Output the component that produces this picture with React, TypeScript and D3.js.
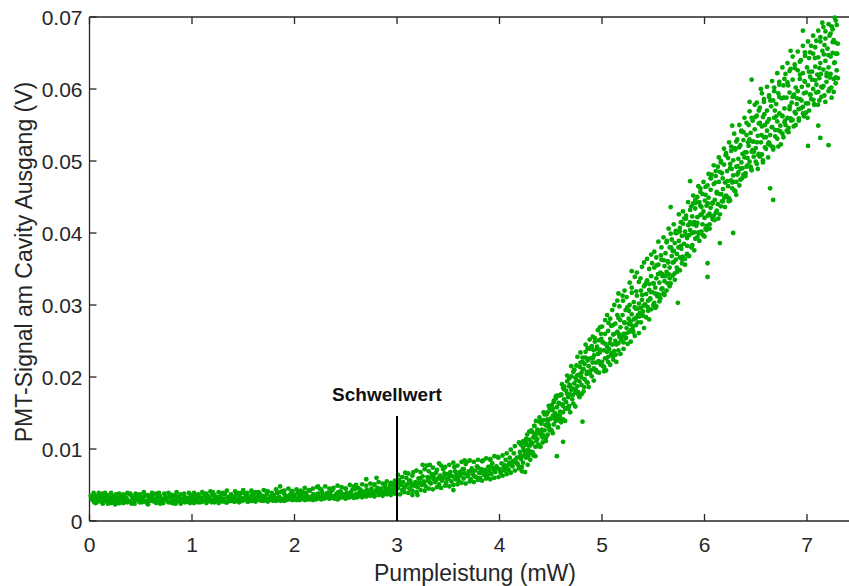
import React from 'react';
import * as d3 from 'd3';

// Pump power (mW) vs PMT signal (mV)
const xTicks = [0, 1, 2, 3, 4, 5, 6, 7];
const xTickLabels = ['0', '1', '2', '3', '4', '5', '6', '7'];
const yTicks = [0, 10, 20, 30, 40, 50, 60, 70];
const yTickLabels = ['0', '0.01', '0.02', '0.03', '0.04', '0.05', '0.06', '0.07'];

const thresholdPower = 3;
const thresholdTop = 14.6;
const thresholdLabel = 'Schwellwert';

const plateauLow: [number, number][] = [
  [0.03,3.3],[0.04,2.8],[0.05,3.6],[0.05,3.0],[0.06,3.1],[0.07,2.6],[0.08,3.4],[0.09,3.2],[0.10,2.9],[0.11,3.6],[0.12,2.6],[0.14,3.2],[0.15,2.9],[0.16,3.4],[0.18,2.4],[0.19,3.1],[0.20,3.3],[0.22,2.7],[0.23,3.0],[0.24,3.5],[0.26,2.8],[0.27,3.2],[0.28,2.5],[0.30,3.1],[0.31,3.4],[0.32,2.9],[0.34,2.6],[0.35,3.3],[0.36,3.0],[0.38,2.8],[0.39,3.7],[0.40,2.7],[0.42,3.1],[0.43,3.2],[0.44,2.4],[0.46,3.4],[0.47,2.9],[0.48,3.0],[0.50,3.3],[0.51,2.6],[0.52,3.2],[0.54,3.5],[0.55,2.8],[0.56,2.5],[0.58,3.1],[0.59,3.3],[0.60,2.9],[0.62,3.6],[0.63,2.7],[0.64,3.0],[0.66,3.2],[0.67,2.7],[0.68,3.5],[0.70,2.9],[0.71,3.0],[0.72,2.5],[0.74,3.3],[0.75,3.1],[0.76,2.8],[0.78,3.4],[0.79,2.6],[0.80,3.2],[0.82,2.9],[0.83,3.5],[0.84,2.4],[0.86,3.1],[0.87,3.3],[0.88,2.7],[0.90,3.0],[0.91,2.8],[0.92,3.6],[0.94,2.7],[0.95,3.1],[0.96,3.2],[0.98,2.5],[0.99,3.4],
  [0.02,3.0],[0.04,3.9],[0.06,2.5],[0.08,2.7],[0.09,3.9],[0.11,3.0],[0.13,3.8],[0.13,2.4],[0.17,3.6],[0.17,2.7],[0.21,3.9],[0.21,2.5],[0.25,3.4],[0.25,2.3],[0.29,3.8],[0.29,3.0],[0.33,2.5],[0.33,3.7],[0.37,3.9],[0.37,2.6],[0.41,3.5],[0.41,2.4],[0.45,3.8],[0.45,3.0],[0.49,2.6],[0.49,3.7],[0.53,4.0],[0.53,2.7],[0.57,3.6],[0.57,2.3],[0.61,3.9],[0.61,2.8],[0.65,2.5],[0.65,3.8],[0.69,3.4],[0.69,2.4],[0.73,3.8],[0.73,3.0],[0.77,2.6],[0.77,3.9],[0.81,3.6],[0.81,2.5],[0.85,4.0],[0.85,2.8],[0.89,3.7],[0.89,2.4],[0.93,3.3],[0.93,2.6],[0.97,3.9],[0.97,2.9]
];

const plateauMid: [number, number][] = [
  [1.00,3.0],[1.01,2.7],[1.03,3.5],[1.04,3.1],[1.05,2.8],[1.07,3.3],[1.08,2.6],[1.09,3.2],[1.11,3.8],[1.12,2.9],[1.13,3.0],[1.15,2.7],[1.16,3.4],[1.17,3.1],[1.19,2.6],[1.20,3.6],[1.21,3.0],[1.23,2.8],[1.24,3.3],[1.25,3.2],[1.27,2.7],[1.28,3.5],[1.29,2.9],[1.31,3.1],[1.32,3.7],[1.33,2.6],[1.35,3.3],[1.36,3.0],[1.37,2.8],[1.39,3.4],[1.40,3.2],[1.41,2.7],[1.43,3.6],[1.44,3.0],[1.45,2.9],[1.47,3.3],[1.48,3.9],[1.49,2.8],[1.51,3.2],[1.52,3.0],[1.53,3.5],[1.55,2.7],[1.56,3.3],[1.57,3.1],[1.59,2.8],[1.60,3.6],[1.61,3.2],[1.63,2.9],[1.64,3.4],[1.65,4.0],[1.67,3.0],[1.68,2.8],[1.69,3.5],[1.71,3.3],[1.72,2.9],[1.73,3.7],[1.75,3.1],[1.76,3.0],[1.77,3.4],[1.79,2.8],[1.80,3.6],[1.81,3.2],[1.83,3.9],[1.84,2.9],[1.85,3.3],[1.86,4.8],[1.87,3.1],[1.88,4.1],[1.89,3.0],[1.91,3.5],[1.92,2.9],[1.93,3.4],[1.95,3.2],[1.96,3.7],[1.97,3.0],[1.99,3.3],
  [1.02,3.9],[1.02,2.5],[1.06,3.7],[1.06,2.6],[1.10,4.0],[1.10,2.7],[1.14,3.8],[1.14,2.5],[1.18,4.1],[1.18,2.8],[1.22,3.6],[1.22,2.6],[1.26,4.0],[1.26,2.5],[1.30,3.9],[1.30,2.7],[1.34,4.2],[1.34,2.6],[1.38,3.7],[1.38,2.8],[1.42,4.1],[1.42,2.7],[1.46,3.8],[1.46,2.6],[1.50,4.3],[1.50,2.9],[1.54,3.9],[1.54,2.7],[1.58,4.2],[1.58,2.8],[1.62,4.0],[1.62,2.7],[1.66,3.8],[1.66,2.9],[1.70,4.3],[1.70,2.8],[1.74,4.1],[1.74,2.7],[1.78,3.9],[1.78,3.0],[1.82,4.4],[1.82,2.8],[1.86,4.0],[1.86,2.9],[1.90,4.2],[1.90,2.8],[1.94,4.5],[1.94,3.0],[1.98,4.1],[1.98,2.9]
];

const plateauHigh: [number, number][] = [
  [2.00,3.6],[2.01,3.1],[2.03,3.9],[2.04,3.3],[2.05,2.9],[2.07,3.5],[2.08,4.0],[2.09,3.2],[2.11,3.6],[2.12,3.0],[2.13,3.4],[2.15,4.2],[2.16,3.3],[2.17,3.1],[2.19,3.7],[2.20,3.5],[2.21,3.0],[2.23,3.8],[2.23,4.8],[2.24,3.4],[2.25,3.2],[2.27,4.0],[2.28,3.6],[2.29,3.1],[2.31,3.5],[2.32,3.9],[2.33,3.3],[2.35,3.7],[2.36,3.2],[2.37,4.3],[2.39,3.5],[2.40,3.4],[2.41,3.8],[2.43,3.1],[2.44,3.6],[2.45,4.1],[2.47,3.4],[2.48,3.7],[2.49,3.2],[2.51,3.9],[2.52,3.5],[2.53,3.3],[2.55,4.0],[2.56,3.6],[2.57,3.4],[2.59,4.4],[2.60,3.7],[2.60,5.0],[2.61,3.3],[2.63,3.9],[2.64,3.6],[2.65,4.2],[2.67,3.5],[2.68,3.8],[2.69,4.1],[2.70,5.8],[2.71,3.6],[2.72,4.0],[2.73,3.7],[2.75,4.5],[2.76,3.9],[2.77,3.6],[2.79,4.2],[2.80,4.0],[2.80,6.0],[2.81,4.6],[2.83,3.8],[2.84,4.3],[2.85,4.1],[2.87,3.9],[2.88,4.7],[2.89,4.2],[2.91,4.0],[2.92,4.5],[2.93,4.9],[2.95,4.1],[2.96,4.4],[2.97,5.2],[2.99,4.3],
  [2.02,4.4],[2.02,2.9],[2.06,4.2],[2.06,3.0],[2.10,4.6],[2.10,2.9],[2.14,4.3],[2.14,3.1],[2.18,4.5],[2.18,2.9],[2.22,4.7],[2.22,3.1],[2.26,4.4],[2.26,3.0],[2.30,4.8],[2.30,3.2],[2.34,4.5],[2.34,3.1],[2.38,4.6],[2.38,3.2],[2.42,4.9],[2.42,3.0],[2.46,4.7],[2.46,3.3],[2.50,4.5],[2.50,3.1],[2.54,5.0],[2.54,3.3],[2.58,4.8],[2.58,3.2],[2.62,4.6],[2.62,3.4],[2.66,5.1],[2.66,3.3],[2.70,4.9],[2.70,3.4],[2.74,5.2],[2.74,3.5],[2.78,5.0],[2.78,3.4],[2.82,5.4],[2.82,3.6],[2.86,5.2],[2.86,3.5],[2.90,5.5],[2.90,3.7],[2.94,5.3],[2.94,3.6],[2.98,5.6],[2.98,3.8]
];

const plateauFill: [number, number][] = [
  [0.012,3.5],[0.047,2.6],[0.081,3.3],[0.118,3.0],[0.152,3.9],[0.187,2.8],[0.223,3.2],[0.258,3.7],[0.292,2.5],[0.327,3.4],[0.363,3.1],[0.398,3.8],[0.432,2.7],[0.467,3.6],[0.503,2.9],[0.538,3.5],[0.572,2.6],[0.607,3.3],[0.643,3.0],[0.678,3.9],[0.712,2.8],[0.747,3.2],[0.783,3.7],[0.818,2.5],[0.852,3.4],[0.887,3.1],[0.923,3.8],[0.958,2.7],[0.992,3.6],
  [1.027,3.0],[1.063,3.6],[1.098,2.7],[1.132,3.4],[1.167,3.1],[1.203,4.0],[1.238,2.9],[1.272,3.3],[1.307,3.8],[1.343,2.6],[1.378,3.5],[1.412,3.2],[1.447,3.9],[1.483,2.8],[1.518,3.8],[1.552,3.1],[1.587,3.7],[1.623,2.8],[1.658,3.5],[1.692,3.2],[1.727,4.1],[1.763,3.0],[1.798,3.4],[1.832,3.9],[1.867,2.8],[1.903,3.7],[1.938,3.4],[1.972,4.1],
  [2.007,3.0],[2.043,3.9],[2.078,3.3],[2.112,3.9],[2.147,3.0],[2.183,3.7],[2.218,3.4],[2.252,4.4],[2.287,3.3],[2.323,3.7],[2.358,4.2],[2.392,3.1],[2.427,4.0],[2.463,3.7],[2.498,4.5],[2.532,3.4],[2.567,4.4],[2.603,3.7],[2.638,4.4],[2.672,3.5],[2.707,4.3],[2.743,4.1],[2.778,5.1],[2.812,4.0],[2.847,4.5],[2.883,5.1],[2.918,4.0],[2.952,5.0],[2.987,4.8]
];

const nearThreshold: [number, number][] = [
  [3.00,5.2],[3.01,4.6],[3.02,5.7],[3.04,5.0],[3.05,4.3],[3.06,5.4],[3.08,4.8],[3.08,6.7],[3.09,6.0],[3.10,5.1],[3.12,4.5],[3.13,5.6],[3.14,5.2],[3.15,3.6],[3.16,6.8],[3.17,4.9],[3.18,5.4],[3.20,4.7],[3.20,3.6],[3.21,5.9],[3.22,5.3],[3.24,5.0],[3.25,6.2],[3.25,7.8],[3.26,5.5],[3.28,4.8],[3.29,7.7],[3.30,5.6],[3.32,6.0],[3.32,7.8],[3.33,5.2],[3.34,6.5],[3.36,5.8],[3.37,5.4],[3.38,6.7],[3.40,5.9],[3.41,5.1],[3.41,8.0],[3.42,6.3],[3.44,5.6],[3.45,7.2],[3.46,6.1],[3.48,5.3],[3.49,6.5],[3.50,5.9],[3.52,6.8],[3.53,5.5],[3.54,6.2],[3.55,4.3],[3.56,7.5],[3.57,5.8],[3.58,6.4],[3.60,5.6],[3.61,6.8],[3.62,6.3],[3.64,7.2],[3.65,5.9],[3.66,6.6],[3.66,8.4],[3.68,8.2],[3.69,6.2],[3.70,6.9],[3.72,5.8],[3.73,7.3],[3.74,6.5],[3.76,7.0],[3.77,6.1],[3.78,7.6],[3.80,6.7],[3.81,6.0],[3.82,7.2],[3.84,8.4],[3.85,6.4],[3.86,6.9],[3.88,6.2],[3.89,7.5],[3.90,7.0],[3.91,8.6],[3.92,6.5],[3.93,8.0],[3.94,7.3],[3.96,6.8],[3.97,7.6],[3.98,8.9],[4.00,7.2],[4.01,6.7],[4.02,8.0],[4.04,7.4],[4.05,7.0],[4.06,8.5],[4.08,7.7],[4.09,7.1],[4.10,8.8],[4.12,7.9],[4.13,8.3],[4.14,9.4],[4.16,8.1],[4.17,8.8],[4.18,7.8],[4.20,9.6],[4.21,8.6],
  [3.01,6.4],[3.03,3.7],[3.05,6.1],[3.07,4.0],[3.11,6.6],[3.11,3.9],[3.15,6.3],[3.15,4.2],[3.19,7.0],[3.19,4.0],[3.23,6.8],[3.23,4.3],[3.27,7.2],[3.27,4.2],[3.31,6.9],[3.31,4.5],[3.35,7.4],[3.35,4.4],[3.39,7.1],[3.39,4.7],[3.43,7.7],[3.43,4.6],[3.47,7.5],[3.47,4.9],[3.51,7.8],[3.51,4.8],[3.55,8.1],[3.55,5.0],[3.59,7.7],[3.59,5.1],[3.63,8.2],[3.63,5.3],[3.67,7.9],[3.67,5.2],[3.71,8.4],[3.71,5.5],[3.75,8.2],[3.75,5.4],[3.79,8.5],[3.79,5.7],[3.83,8.3],[3.83,5.6],[3.87,8.7],[3.87,5.9],[3.91,8.5],[3.91,5.8],[3.95,9.0],[3.95,6.0],[3.99,8.8],[3.99,6.1],[4.03,9.1],[4.03,6.3],[4.07,9.4],[4.07,6.5],[4.11,9.9],[4.11,6.7],[4.15,10.4],[4.15,7.0],[4.19,10.9],[4.19,7.3],
  [3.035,5.3],[3.072,4.6],[3.118,5.6],[3.143,4.9],[3.187,5.0],[3.226,5.9],[3.262,5.2],[3.297,6.1],[3.318,5.4],[3.356,6.3],[3.384,5.7],[3.427,5.9],[3.463,6.6],[3.487,5.8],[3.524,6.3],[3.566,6.9],[3.593,5.9],[3.627,6.6],[3.652,7.2],[3.694,6.4],[3.728,6.9],[3.756,6.2],[3.791,7.4],[3.823,6.7],[3.857,7.1],[3.878,6.5],[3.915,7.6],[3.946,7.0],[3.972,7.3],[4.013,6.9],[4.044,7.8],[4.068,7.2],[4.094,8.1],[4.127,7.6],[4.155,8.5],[4.176,8.0],[4.197,8.9]
];

const riseEarly: [number, number][] = [
  [4.22,9.0],[4.23,10.2],[4.23,8.1],[4.24,10.9],[4.25,9.5],[4.26,10.6],[4.26,8.8],[4.27,12.0],[4.28,9.9],[4.29,11.3],[4.29,9.4],[4.30,10.5],[4.31,12.6],[4.32,10.8],[4.32,9.6],[4.33,11.6],[4.34,13.2],[4.35,10.3],[4.35,11.9],[4.36,11.1],[4.37,12.7],[4.38,10.6],[4.38,12.3],[4.39,13.8],
  [4.40,12.0],[4.41,13.5],[4.41,12.2],[4.42,10.9],[4.43,14.0],[4.44,12.6],[4.44,14.8],[4.45,13.3],[4.46,11.8],[4.47,15.1],[4.47,13.8],[4.48,13.0],[4.49,15.6],[4.50,14.2],[4.50,12.7],[4.51,16.1],[4.52,14.6],[4.53,13.4],[4.53,16.7],[4.54,15.0],[4.55,13.9],[4.56,15.8],[4.56,17.4],[4.57,14.7],[4.58,16.3],[4.59,15.2],[4.59,14.0],[4.60,17.6],[4.61,16.2],[4.62,15.1],[4.62,18.5],[4.63,16.9],[4.64,15.6],[4.65,18.1],[4.65,16.5],[4.66,19.4],[4.67,17.2],[4.68,16.0],[4.68,18.7],[4.69,17.6],
  [4.70,20.1],[4.71,18.4],[4.71,16.9],[4.72,20.7],[4.73,19.1],[4.74,17.8],[4.74,19.9],[4.75,21.6],[4.76,18.7],[4.77,20.3],[4.77,17.5],[4.78,19.4],[4.79,22.0],[4.80,20.6],[4.80,18.9],[4.81,22.7],[4.82,21.1],[4.83,19.7],[4.83,21.8],[4.84,23.5],[4.85,20.4],[4.86,22.3],[4.86,19.2],[4.87,21.5],[4.88,23.9],[4.89,22.6],[4.89,20.9],
  [4.90,24.3],[4.91,22.6],[4.92,21.2],[4.92,23.7],[4.93,25.4],[4.94,22.0],[4.95,23.9],[4.95,20.7],[4.96,23.2],[4.97,25.1],[4.98,23.8],[4.98,21.9],[4.99,26.0]
];

const riseMid: [number, number][] = [
  [5.00,22.1],[5.01,24.8],[5.01,21.5],[5.02,23.7],[5.03,26.0],[5.03,22.6],[5.04,20.9],[5.05,24.2],[5.06,22.8],[5.06,26.4],[5.07,23.9],[5.08,21.7],[5.08,25.3],[5.09,27.1],[5.10,24.5],[5.11,22.4],[5.11,25.9],[5.12,23.6],[5.13,27.4],[5.13,25.0],[5.14,22.1],[5.15,26.3],[5.16,24.7],[5.16,28.2],[5.17,25.6],[5.18,23.2],[5.18,26.9],[5.19,25.1],[5.20,28.6],[5.21,26.0],[5.21,23.9],[5.22,27.5],[5.23,25.4],[5.23,29.3],[5.24,26.8],[5.25,24.6],[5.26,28.1],[5.26,26.2],[5.27,30.0],[5.28,27.3],[5.28,24.9],[5.29,28.7],[5.30,26.5],[5.31,30.4],[5.31,28.0],[5.32,25.7],[5.33,29.5],[5.33,27.2],[5.34,31.3],[5.35,28.6],[5.36,26.1],[5.36,30.2],[5.37,28.9],[5.38,32.0],[5.38,27.6],[5.39,30.7],[5.40,29.1],[5.41,26.8],[5.41,32.6],[5.42,30.0],[5.43,28.3],[5.43,31.5],[5.44,33.4],[5.45,30.6],[5.46,28.0],[5.46,32.1],[5.47,30.9],[5.48,34.0],[5.48,29.4],[5.49,31.8],[5.50,33.0],[5.51,30.3],[5.51,35.2],[5.52,32.4],[5.53,29.8],[5.53,33.7],[5.54,31.2],[5.55,35.6],[5.56,33.1],[5.56,30.5],[5.57,34.5],[5.58,32.2],[5.58,36.3],[5.59,34.0],[5.60,31.6],[5.61,35.4],[5.61,33.3],[5.62,37.2],[5.63,34.6],[5.63,32.0],[5.64,36.1],[5.65,34.3],[5.66,38.0],[5.66,35.2],[5.67,33.0],[5.68,36.8],[5.68,39.1],[5.69,35.9],[5.70,37.5],[5.71,34.4],[5.71,38.6],[5.72,36.3],[5.73,40.0],[5.73,37.1],[5.74,34.9],[5.75,38.9],[5.76,36.6],[5.76,40.7],[5.77,38.2],[5.78,35.8],[5.78,39.6],[5.79,41.3],[5.80,38.5],[5.81,36.4],[5.81,40.2],[5.82,42.0],[5.83,39.3],[5.83,37.0],[5.84,41.1],[5.85,39.7],[5.86,43.2],[5.86,40.4],[5.87,38.1],[5.88,42.3],[5.88,40.0],[5.89,44.1],[5.90,41.5],[5.91,39.2],[5.91,43.4],[5.92,41.0],[5.93,45.0],[5.93,42.2],[5.94,40.1],[5.95,44.3],[5.96,42.5],[5.96,46.2],[5.97,43.6],[5.98,41.2],[5.98,45.4],[5.99,43.0]
];

const riseLate: [number, number][] = [
  [6.00,42.1],[6.01,45.3],[6.01,40.6],[6.02,43.8],[6.03,46.6],[6.03,42.4],[6.04,44.9],[6.05,41.2],[6.06,46.0],[6.06,43.5],[6.07,48.1],[6.08,44.2],[6.08,41.9],[6.09,46.8],[6.10,44.6],[6.11,47.9],[6.11,42.8],[6.12,45.7],[6.13,49.2],[6.13,44.0],[6.14,47.1],[6.15,45.4],[6.16,50.0],[6.16,43.7],[6.17,48.3],[6.18,46.1],[6.18,44.4],[6.19,49.5],[6.20,47.0],[6.21,51.1],[6.21,45.2],[6.22,48.6],[6.23,46.5],[6.23,50.4],[6.24,44.8],[6.25,49.0],[6.26,47.3],[6.26,52.0],[6.27,46.2],[6.28,50.1],[6.28,48.0],[6.29,45.9],[6.30,51.6],[6.31,49.2],[6.31,47.1],[6.32,53.0],[6.33,50.3],[6.33,48.4],[6.34,46.6],[6.35,52.2],[6.36,49.8],[6.36,54.1],[6.37,51.0],[6.38,48.1],[6.38,52.9],[6.39,50.5],[6.40,47.9],[6.41,53.6],[6.41,51.2],[6.42,49.4],[6.43,55.0],[6.43,52.1],[6.44,49.9],[6.45,53.9],[6.46,51.3],[6.46,48.7],[6.47,55.6],[6.48,52.7],[6.48,50.6],[6.49,54.4],[6.50,51.8],[6.51,56.3],[6.51,49.6],[6.52,53.5],[6.53,51.0],[6.53,55.2],[6.54,57.4],[6.55,52.6],[6.56,54.8],[6.56,50.9],[6.57,56.1],[6.58,53.3],[6.58,58.2],[6.59,55.0],[6.60,51.7],[6.61,57.0],[6.61,54.2],[6.62,52.4],[6.63,59.1],[6.63,55.8],[6.64,53.6],[6.65,57.6],[6.66,54.7],[6.66,52.0],[6.67,58.4],[6.68,56.0],[6.68,60.2],[6.69,54.3],[6.70,57.9],[6.71,55.5],[6.71,53.1],[6.72,59.4],[6.73,56.6],[6.73,61.0],[6.74,54.9],[6.75,58.7],[6.76,56.2],[6.76,53.8],[6.77,60.5],[6.78,57.3],[6.78,55.4],[6.79,62.1],[6.80,58.8],[6.81,56.0],[6.81,60.9],[6.82,54.6],[6.83,59.5],[6.83,57.2],[6.84,62.8],[6.85,58.1],[6.86,55.7],[6.86,61.3],[6.87,59.0],[6.88,63.4],[6.88,56.8],[6.89,60.2],[6.90,57.9],[6.91,62.6],[6.91,59.7],[6.92,55.9],[6.93,61.4],[6.93,58.6],[6.94,64.0],[6.95,60.3],[6.96,57.5],[6.96,62.2],[6.97,59.4],[6.98,65.1],[6.98,61.0],[6.99,56.7],[7.00,63.0],[7.01,60.5],[7.01,58.0],[7.02,64.3],[7.03,61.7],[7.03,59.2],[7.04,66.0],[7.05,62.4],[7.06,60.0],[7.06,64.9],[7.07,57.8],[7.08,63.1],[7.08,61.2],[7.09,66.7],[7.10,62.0],[7.11,59.6],[7.11,64.4],[7.12,61.5],[7.13,67.2],[7.13,63.6],[7.14,58.9],[7.15,65.3],[7.16,62.7],[7.16,60.4],[7.17,66.1],[7.18,63.9],[7.18,68.0],[7.19,61.8],[7.20,65.6],[7.21,63.0],[7.21,59.7],[7.22,67.4],[7.23,64.5],[7.23,62.1],[7.24,68.7],[7.25,65.0],[7.26,61.4],[7.26,66.8],[7.27,63.7],[7.28,69.5],[7.28,64.9],[7.29,62.6],[7.30,66.3]
];

const riseSpread: [number, number][] = [
  [4.21,10.6],[4.22,6.9],[4.24,9.8],[4.25,6.8],[4.26,11.4],[4.28,9.0],[4.29,12.4],[4.30,8.5],[4.31,10.9],[4.33,9.1],[4.34,13.2],[4.35,9.0],[4.36,12.3],[4.37,10.4],[4.39,14.4],[4.40,10.3],[4.41,13.9],[4.42,11.6],[4.43,15.1],[4.45,11.5],[4.46,14.8],[4.47,12.0],[4.48,16.0],[4.49,12.6],[4.51,15.4],[4.52,12.2],[4.53,16.5],[4.54,14.2],[4.55,17.0],[4.57,13.0],[4.58,17.4],[4.59,14.6],[4.60,13.7],
  [4.61,19.0],[4.62,14.1],[4.63,18.3],[4.64,13.9],[4.66,20.2],[4.67,15.8],[4.68,19.8],[4.69,15.1],[4.70,21.5],[4.72,16.3],[4.73,21.0],[4.74,15.9],[4.75,19.6],[4.76,22.8],[4.78,17.2],[4.79,23.4],[4.80,17.6],[4.81,22.1],[4.82,18.0],[4.84,24.5],[4.85,19.3],[4.86,24.0],[4.87,18.6],[4.88,25.2],[4.90,20.1],[4.91,25.6],[4.92,19.5],[4.93,24.9],[4.94,21.0],[4.96,26.5],[4.97,20.6],[4.98,26.9],[4.99,21.7],[5.00,27.0],[5.02,20.8],[5.03,27.9],[5.04,22.6],[5.05,28.6],[5.06,22.1],[5.08,28.1],[5.09,23.0],[5.10,29.3],[5.11,22.9],[5.12,30.0],[5.14,24.5],[5.15,30.6],[5.16,23.7],[5.17,29.8],[5.18,25.4],[5.20,31.3],[5.21,24.8],[5.22,32.0],[5.23,26.0],[5.24,31.1],[5.26,27.4],[5.27,33.1],[5.28,26.5],[5.29,32.4],[5.30,27.0],[5.32,33.9],[5.33,28.2],[5.34,34.5],[5.35,27.6],[5.36,33.2],[5.38,29.6],[5.39,35.3],[5.40,28.5],[5.41,35.9],[5.42,30.1],[5.44,36.4],[5.45,29.2],[5.46,35.0],[5.47,30.8],[5.48,37.0],[5.50,30.0],
  [5.51,37.4],[5.52,29.6],[5.53,36.6],[5.54,31.5],[5.55,38.8],[5.57,30.9],[5.58,38.0],[5.59,32.3],[5.60,39.4],[5.61,31.4],[5.63,38.7],[5.64,33.0],[5.65,40.6],[5.66,32.6],[5.67,39.9],[5.69,34.1],[5.70,41.2],[5.71,33.5],[5.72,40.3],[5.73,35.2],[5.75,42.6],[5.76,34.8],[5.77,41.5],[5.78,36.4],[5.79,43.0],[5.81,35.6],[5.82,42.4],[5.83,37.1],[5.84,44.3],[5.85,36.8],[5.87,43.7],[5.88,38.3],[5.89,45.2],[5.90,37.6],[5.91,44.6],[5.93,39.4],[5.94,46.5],[5.95,38.9],[5.96,45.7],[5.97,40.2],[5.99,47.1],[6.00,39.5],[6.01,46.4],[6.02,41.0],[6.04,48.2],[6.05,40.6],[6.06,47.6],[6.07,42.3],[6.09,49.4],[6.10,41.8],[6.11,48.6],[6.12,43.1],[6.14,50.5],[6.15,42.6],[6.16,49.8],[6.17,44.4],[6.19,51.7],[6.20,43.6],[6.21,50.9],[6.22,45.0],[6.24,52.6],[6.25,44.5],[6.26,51.4],[6.27,47.0],[6.29,53.8],[6.30,45.8],[6.31,52.7],[6.32,48.1],[6.34,55.0],[6.35,47.4],[6.36,54.2],[6.37,49.0],[6.39,56.0],[6.40,48.3],[6.41,55.3],[6.42,50.4],[6.44,56.9],[6.45,49.2],[6.46,56.0],[6.47,51.5],[6.49,57.8],[6.50,49.9],
  [6.51,58.1],[6.52,48.9],[6.53,57.0],[6.54,50.6],[6.56,59.4],[6.57,49.8],[6.58,58.6],[6.59,51.9],[6.61,60.3],[6.62,50.5],[6.63,58.9],[6.64,52.2],[6.66,61.1],[6.67,51.6],[6.68,59.7],[6.69,53.4],[6.71,62.2],[6.72,52.0],[6.73,60.6],[6.74,54.1],[6.76,63.0],[6.77,53.3],[6.78,61.4],[6.79,55.0],[6.81,63.6],[6.82,54.0],[6.83,62.5],[6.84,55.9],[6.86,64.5],[6.87,54.8],[6.88,62.9],[6.89,56.6],[6.91,65.2],[6.92,55.6],[6.93,63.8],[6.94,57.3],[6.96,66.0],[6.97,56.2],[6.98,64.6],[6.99,58.0],[7.01,66.6],[7.02,57.0],[7.03,65.1],[7.04,58.6],[7.06,67.4],[7.07,57.9],[7.08,65.8],[7.09,59.5],[7.11,68.1],[7.12,58.4],[7.13,66.6],[7.14,60.3],[7.16,68.6],[7.17,59.1],[7.18,67.0],[7.19,61.0],[7.21,69.0],[7.22,60.0],[7.23,67.7],[7.24,58.8],[7.25,68.3],[7.26,59.6],[7.27,66.5],[7.28,60.8],[7.29,68.9],[7.30,61.5]
];

const riseFill: [number, number][] = [
  [4.205,9.1],[4.218,7.5],[4.231,11.1],[4.247,9.0],[4.262,10.8],[4.275,7.8],[4.288,10.5],[4.302,9.6],[4.316,12.4],[4.327,9.4],[4.341,12.0],[4.356,13.9],[4.369,11.4],[4.383,10.4],[4.397,13.7],[4.412,12.7],[4.426,11.9],[4.438,15.0],[4.452,11.1],[4.467,14.1],[4.481,13.3],[4.494,15.7],[4.508,12.6],[4.521,15.6],[4.536,14.7],[4.549,17.3],[4.563,14.2],[4.577,16.4],[4.591,14.0],[4.604,17.5],[4.618,16.0],[4.632,18.7],[4.645,15.6],[4.659,17.7],[4.673,15.6],[4.686,18.9],[4.701,18.2],[4.715,17.5],[4.728,21.0],[4.742,18.3],[4.757,20.2],[4.769,17.9],[4.784,21.4],[4.797,20.0],[4.811,21.1],[4.826,18.6],[4.839,22.7],[4.853,20.7],[4.866,22.5],[4.881,20.5],[4.894,24.1],[4.908,22.0],[4.922,23.0],[4.937,20.9],[4.951,24.2],[4.966,22.2],[4.979,23.4],[4.993,25.3],
  [5.006,24.8],[5.021,21.4],[5.035,24.6],[5.049,23.5],[5.063,27.5],[5.078,24.7],[5.092,23.3],[5.106,27.2],[5.121,26.0],[5.134,23.1],[5.149,28.6],[5.163,26.0],[5.177,27.9],[5.192,25.6],[5.205,30.6],[5.219,27.6],[5.234,25.4],[5.248,29.7],[5.262,29.2],[5.277,27.7],[5.291,31.7],[5.305,26.2],[5.319,29.7],[5.334,31.9],[5.347,29.5],[5.362,28.4],[5.376,33.7],[5.391,31.4],[5.404,29.9],[5.418,32.8],
  [5.433,33.1],[5.447,29.7],[5.461,32.9],[5.476,31.8],[5.489,35.8],[5.504,33.0],[5.518,31.6],[5.532,35.5],[5.547,34.3],[5.561,31.4],[5.575,36.9],[5.589,34.3],[5.603,36.2],[5.618,34.0],[5.632,38.9],[5.646,35.9],[5.661,33.7],[5.674,38.0],[5.689,37.5],[5.703,36.0],[5.717,40.0],[5.731,34.6],[5.746,38.0],[5.759,40.2],[5.774,37.8],[5.788,36.7],[5.802,42.0],[5.817,39.7],[5.831,38.2],[5.845,41.1],[5.859,41.5],[5.873,38.0],[5.888,41.2],[5.902,40.1],[5.916,44.2],[5.931,41.4],[5.944,39.9],[5.959,43.8],[5.973,42.6],[5.987,39.7],
  [6.004,44.5],[6.019,40.4],[6.033,44.1],[6.048,42.7],[6.062,47.6],[6.077,44.1],[6.091,42.4],[6.106,47.0],[6.120,45.5],[6.135,42.0],[6.149,48.5],[6.164,45.4],[6.178,47.6],[6.193,44.9],[6.207,50.8],[6.222,47.2],[6.236,44.4],[6.251,49.6],[6.265,48.9],[6.280,47.1],[6.294,51.8],[6.309,45.3],[6.323,49.3],[6.338,51.9],[6.352,48.9],[6.367,47.6],[6.381,54.0],[6.396,51.2],[6.410,49.2],[6.425,52.6],[6.439,53.0],[6.454,48.9],[6.468,52.7],[6.483,51.3],[6.497,56.1],
  [6.512,52.6],[6.526,50.8],[6.541,55.3],[6.555,53.6],[6.570,50.1],[6.584,56.5],[6.599,53.3],[6.613,55.4],[6.628,52.6],[6.642,58.4],[6.657,54.7],[6.671,51.9],[6.686,57.0],[6.700,56.2],[6.715,54.3],[6.729,58.9],[6.744,52.3],[6.758,56.3],[6.773,58.8],[6.787,55.6],[6.802,54.2],[6.816,60.5],[6.831,57.6],[6.845,55.6],[6.860,58.9],[6.874,59.2],[6.889,55.0],[6.903,58.7],[6.918,57.2],[6.932,62.0],[6.947,58.4],[6.961,56.6],[6.976,61.1],[6.990,59.5],
  [7.005,56.0],[7.019,62.4],[7.034,59.2],[7.048,61.3],[7.063,58.5],[7.077,64.3],[7.092,60.6],[7.106,57.8],[7.121,62.9],[7.135,62.1],[7.150,60.2],[7.164,64.8],[7.179,58.2],[7.193,62.2],[7.208,64.7],[7.222,61.6],[7.237,60.2],[7.251,66.5],[7.266,63.6],[7.280,61.6],[7.295,64.9]
];

const outliers: [number, number][] = [
  [4.56,9.0],[4.81,13.8],[4.62,11.0],[5.16,31.6],[5.29,34.7],[5.67,43.6],[5.74,30.3],[5.86,47.2],
  [6.03,33.9],[6.03,35.8],[6.15,38.6],[6.28,40.0],[6.27,54.9],[6.44,58.2],[6.46,61.3],[6.55,60.0],
  [6.64,46.2],[6.67,44.6],[6.84,65.3],[6.96,68.1],[7.01,52.1],[7.11,54.9],[7.13,53.2],[7.15,69.2],
  [7.21,52.2],[7.27,69.9]
];

const measurements = [
  ...plateauLow, ...plateauMid, ...plateauHigh, ...plateauFill, ...nearThreshold,
  ...riseEarly, ...riseMid, ...riseLate, ...riseSpread, ...riseFill, ...outliers,
];

export default function App() {
  const W = 849;
  const H = 586;
  const x = d3.scaleLinear().domain([0, 7.5]).range([89.5, 858.25]);
  const y = d3.scaleLinear().domain([0, 70]).range([521, 17]);
  const [x0, x1] = x.range();
  const [yb, yt] = y.range();
  const axisColor = '#262626';
  const font = '"Liberation Sans", Arial, Helvetica, sans-serif';
  const tickLen = 7;

  return (
    <svg width={W} height={H} style={{ position: 'absolute', left: 0, top: 0, background: '#fff' }}
      fontFamily={font}>
      <rect x={0} y={0} width={W} height={H} fill="#fff" />
      <g stroke={axisColor} strokeWidth={1.3} fill="none">
        <line x1={x0} x2={x1} y1={yb} y2={yb} />
        <line x1={x0} x2={x1} y1={yt} y2={yt} />
        <line x1={x0} x2={x0} y1={yb} y2={yt} />
        <line x1={x1} x2={x1} y1={yb} y2={yt} />
        {xTicks.map((t) => (
          <g key={'xt' + t}>
            <line x1={x(t)} x2={x(t)} y1={yb} y2={yb - tickLen} />
            <line x1={x(t)} x2={x(t)} y1={yt} y2={yt + tickLen} />
          </g>
        ))}
        {yTicks.map((t) => (
          <g key={'yt' + t}>
            <line x1={x0} x2={x0 + tickLen} y1={y(t)} y2={y(t)} />
            <line x1={x1} x2={x1 - tickLen} y1={y(t)} y2={y(t)} />
          </g>
        ))}
      </g>
      <g fill="#00AA00">
        {measurements.map((d, i) => (
          <circle key={i} cx={x(d[0])} cy={y(d[1])} r={2.4} />
        ))}
      </g>
      <line x1={x(thresholdPower)} x2={x(thresholdPower)} y1={y(0)} y2={y(thresholdTop)}
        stroke="#000" strokeWidth={2} />
      <text x={x(thresholdPower) - 10} y={400.5} textAnchor="middle" fontSize={19}
        fontWeight="bold" fill="#111">{thresholdLabel}</text>
      <g fill={axisColor} fontSize={21}>
        {xTicks.map((t, i) => (
          <text key={'xl' + t} x={x(t)} y={yb + 31} textAnchor="middle">{xTickLabels[i]}</text>
        ))}
        {yTicks.map((t, i) => (
          <text key={'yl' + t} x={x0 - 7} y={y(t)} dy="0.36em" textAnchor="end">{yTickLabels[i]}</text>
        ))}
      </g>
      <text x={475} y={581} textAnchor="middle" fontSize={23} fill={axisColor}>Pumpleistung (mW)</text>
      <text transform="translate(31.5,262) rotate(-90)" textAnchor="middle" fontSize={23} fill={axisColor}>
        PMT-Signal am Cavity Ausgang (V)
      </text>
    </svg>
  );
}
